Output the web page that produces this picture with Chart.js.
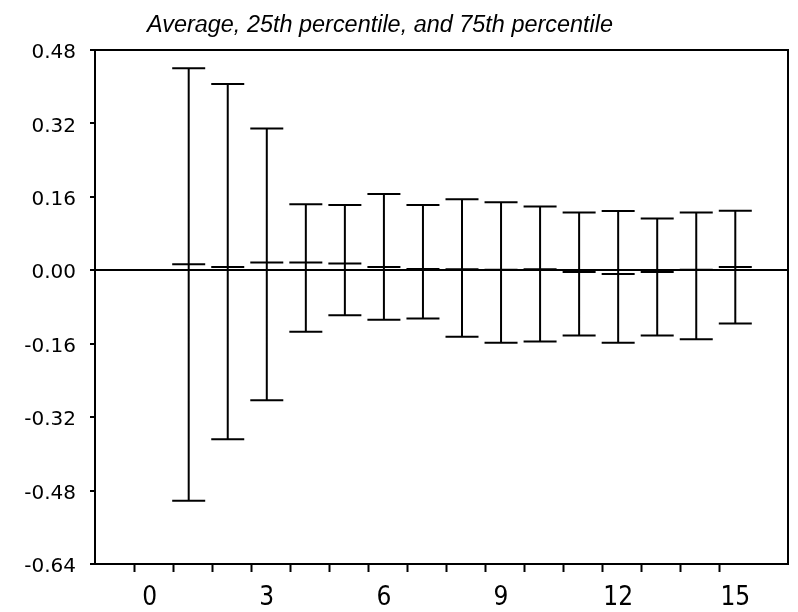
<!DOCTYPE html>
<html>
<head>
<meta charset="utf-8">
<script src="https://cdn.jsdelivr.net/npm/chart.js@4"></script>
<style>
  html, body { margin: 0; padding: 0; background: #fff; }
  #wrap { width: 798px; height: 612px; position: relative; }
</style>
</head>
<body>
<div id="wrap"><canvas id="chart"></canvas></div>
<script>
// horizon (x) and the three statistics per horizon
const horizons = [1, 2, 3, 4, 5, 6, 7, 8, 9, 10, 11, 12, 13, 14, 15];
const avgValues = [0.013, 0.007, 0.017, 0.017, 0.015, 0.007, 0.003, 0.002, 0.001, 0.002, -0.004, -0.008, -0.004, 0.001, 0.007];
const p75Values = [0.440, 0.406, 0.309, 0.144, 0.142, 0.166, 0.142, 0.155, 0.148, 0.139, 0.126, 0.129, 0.113, 0.126, 0.130];
const p25Values = [-0.502, -0.368, -0.283, -0.134, -0.098, -0.108, -0.105, -0.145, -0.158, -0.155, -0.142, -0.158, -0.142, -0.150, -0.116];

const titleText = "Average, 25th percentile, and 75th percentile";
const yTickValues = [-0.64, -0.48, -0.32, -0.16, 0, 0.16, 0.32, 0.48];
const xLabelValues = [0, 3, 6, 9, 12, 15];
const xMinorTicks = [-0.4, 0.6, 1.6, 2.6, 3.6, 4.6, 5.6, 6.6, 7.6, 8.6, 9.6, 10.6, 11.6, 12.6, 13.6, 14.6];

function toPoints(values) {
  return horizons.map((h, i) => ({ x: h, y: values[i] }));
}

// whiskers: one line broken by gaps between horizons
const whiskerPoints = [];
horizons.forEach((h, i) => {
  whiskerPoints.push({ x: h, y: p25Values[i] });
  whiskerPoints.push({ x: h, y: p75Values[i] });
  whiskerPoints.push({ x: h, y: null });
});

const capStyle = {
  type: "scatter",
  pointStyle: "line",
  pointRadius: 16.5,
  pointHoverRadius: 16.5,
  pointBorderWidth: 2,
  borderColor: "#000",
  backgroundColor: "#000"
};

const frameAndTitle = {
  id: "frameAndTitle",
  beforeDatasetsDraw(chart) {
    const { ctx, chartArea } = chart;
    ctx.save();
    ctx.strokeStyle = "#000";
    ctx.lineWidth = 2;
    ctx.strokeRect(chartArea.left, chartArea.top, chartArea.right - chartArea.left, chartArea.bottom - chartArea.top);
    ctx.restore();
  },
  afterDraw(chart) {
    const { ctx, chartArea } = chart;
    ctx.save();
    ctx.font = 'italic 23px "Liberation Sans", Arial, sans-serif';
    ctx.fillStyle = "#000";
    ctx.textBaseline = "alphabetic";
    const w = ctx.measureText(titleText).width;
    ctx.translate(chartArea.left + 52, 32);
    ctx.scale(466 / w, 1);
    ctx.fillText(titleText, 0, 0);
    ctx.restore();
  }
};

new Chart(document.getElementById("chart"), {
  type: "scatter",
  data: {
    datasets: [
      {
        type: "line",
        label: "range",
        data: whiskerPoints,
        borderColor: "#000",
        borderWidth: 2,
        pointRadius: 0,
        spanGaps: false,
        fill: false
      },
      Object.assign({ label: "75th percentile", data: toPoints(p75Values) }, capStyle),
      Object.assign({ label: "25th percentile", data: toPoints(p25Values) }, capStyle),
      Object.assign({ label: "Average", data: toPoints(avgValues) }, capStyle)
    ]
  },
  options: {
    responsive: true,
    maintainAspectRatio: false,
    animation: false,
    layout: {
      autoPadding: false,
      padding: { top: 50, right: 10, left: 0, bottom: 0 }
    },
    plugins: {
      legend: { display: false },
      tooltip: { enabled: false },
      title: { display: false }
    },
    scales: {
      x: {
        type: "linear",
        position: "bottom",
        min: -1.4,
        max: 16.35,
        afterBuildTicks: scale => {
          scale.ticks = xMinorTicks.concat(xLabelValues)
            .sort((a, b) => a - b)
            .map(v => ({ value: v }));
        },
        afterFit: scale => {
          scale.height = 48;
          scale.paddingLeft = 0;
          scale.paddingRight = 0;
        },
        ticks: {
          autoSkip: false,
          maxRotation: 0,
          padding: 11,
          color: "#000",
          font: { family: '"Liberation Sans Narrow", "DejaVu Sans Condensed", sans-serif', size: 26 },
          callback: value => xLabelValues.includes(value) ? String(value) : ""
        },
        grid: {
          drawOnChartArea: false,
          tickLength: 8,
          tickWidth: 2,
          tickColor: ctx => (ctx.tick && xLabelValues.includes(ctx.tick.value)) ? "rgba(0,0,0,0)" : "#000"
        },
        border: { display: true, color: "#000", width: 2 }
      },
      y: {
        min: -0.64,
        max: 0.48,
        afterBuildTicks: scale => {
          scale.ticks = yTickValues.map(v => ({ value: v }));
        },
        afterFit: scale => {
          scale.width = 95;
          scale.paddingTop = 0;
          scale.paddingBottom = 0;
        },
        ticks: {
          padding: 14,
          labelOffset: 3,
          color: "#000",
          font: { family: '"DejaVu Sans", sans-serif', size: 20 },
          callback: value => Number(value).toFixed(2)
        },
        grid: {
          drawOnChartArea: true,
          tickLength: 5,
          lineWidth: 2,
          tickWidth: 2,
          tickColor: "#000",
          color: ctx => (ctx.tick && ctx.tick.value === 0) ? "#000" : "rgba(0,0,0,0)"
        },
        border: { display: true, color: "#000", width: 2 }
      }
    }
  },
  plugins: [frameAndTitle]
});
</script>
</body>
</html>
